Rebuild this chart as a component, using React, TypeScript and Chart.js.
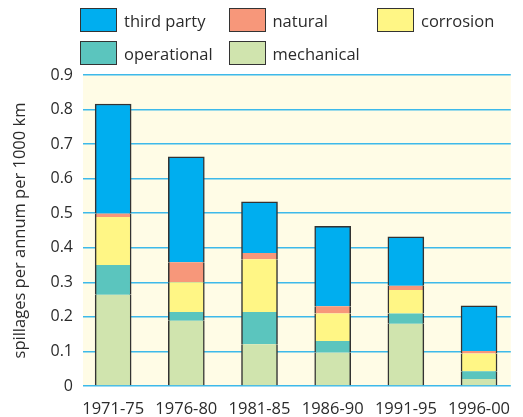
import React, { useEffect, useRef } from 'react';
import { Chart, registerables } from 'chart.js';

Chart.register(...registerables);

const categories = ['1971-75', '1976-80', '1981-85', '1986-90', '1991-95', '1996-00'];
const mechanical = [0.264, 0.189, 0.121, 0.097, 0.180, 0.020];
const operational = [0.086, 0.025, 0.093, 0.033, 0.030, 0.023];
const corrosion = [0.139, 0.086, 0.153, 0.080, 0.068, 0.051];
const natural = [0.010, 0.058, 0.018, 0.021, 0.012, 0.007];
const thirdParty = [0.317, 0.305, 0.148, 0.231, 0.142, 0.131];
const yTickValues = [0, 0.1, 0.2, 0.3, 0.4, 0.5, 0.6, 0.7, 0.8, 0.9];
const yTitle = 'spillages per annum per 1000 km';

// bottom to top
const series = [
  { label: 'mechanical', data: mechanical, color: '#D0E4AE' },
  { label: 'operational', data: operational, color: '#5BC5BE' },
  { label: 'corrosion', data: corrosion, color: '#FFF685' },
  { label: 'natural', data: natural, color: '#F7977A' },
  { label: 'third party', data: thirdParty, color: '#00AEEF' },
];
const legendOrder = ['third party', 'natural', 'corrosion', 'operational', 'mechanical'];

const FONT = "'Open Sans', 'Noto Sans', sans-serif";
const TEXT = '#2b2b2b';
const EDGE = '#333333';

const bgPlugin = {
  id: 'bgFill',
  beforeDraw(chart: any) {
    const { ctx, chartArea } = chart;
    ctx.save();
    ctx.fillStyle = '#FFFCE6';
    ctx.fillRect(chartArea.left, chartArea.top, chartArea.right - chartArea.left, chartArea.bottom - chartArea.top);
    ctx.restore();
  },
};

export default function App() {
  const ref = useRef<HTMLCanvasElement | null>(null);
  useEffect(() => {
    if (!ref.current) return;
    const n = series.length;
    const chart = new Chart(ref.current, {
      type: 'bar',
      data: {
        datasets: series.map((s, i) => ({
          label: s.label,
          data: s.data.map((v, j) => ({ x: j, y: v })),
          backgroundColor: s.color,
          borderColor: EDGE,
          borderSkipped: false,
          borderWidth: { left: 1.5, right: 1.5, top: i === n - 1 ? 1.5 : 0, bottom: 0 },
          barThickness: 36,
        })),
      },
      options: {
        animation: false,
        responsive: false,
        layout: { padding: { top: 75, left: 0, right: 0, bottom: 0 } },
        plugins: { legend: { display: false }, tooltip: { enabled: false } },
        scales: {
          x: {
            type: 'linear',
            stacked: true,
            offset: false,
            min: -0.412,
            max: 5.434,
            grid: { display: false, offset: false, drawTicks: false },
            border: { display: false },
            afterBuildTicks: (s: any) => {
              s.ticks = categories.map((_, i) => ({ value: i }));
            },
            afterFit: (s: any) => {
              s.height = 31;
            },
            ticks: {
              callback: (v: any) => categories[v] ?? '',
              autoSkip: false,
              maxRotation: 0,
              padding: 13,
              font: { family: FONT, size: 16.5 },
              color: TEXT,
            },
          },
          y: {
            stacked: true,
            min: 0,
            max: 0.9,
            afterBuildTicks: (s: any) => {
              s.ticks = yTickValues.map((v) => ({ value: v }));
            },
            afterFit: (s: any) => {
              s.width = 83;
            },
            ticks: {
              callback: (v: any) => (v === 0 ? '0' : Number(v).toFixed(1)),
              padding: 10,
              font: { family: FONT, size: 16 },
              color: TEXT,
            },
            grid: { color: '#3DB9EA', lineWidth: 1.5, drawTicks: false },
            border: { display: false },
            title: {
              display: true,
              text: yTitle,
              font: { family: FONT, size: 16.5 },
              color: TEXT,
              padding: { top: 10, bottom: 0 },
            },
          },
        },
      },
      plugins: [bgPlugin],
    } as any);
    return () => chart.destroy();
  }, []);

  return (
    <div style={{ position: 'absolute', left: 0, top: 0, width: 523, height: 417, background: '#fff' }}>
      <canvas ref={ref} width={523} height={417} style={{ display: 'block' }} />
      {legendOrder.map((name, i) => {
        const s = series.find((d) => d.label === name)!;
        const col = i % 3;
        const row = Math.floor(i / 3);
        return (
          <div
            key={name}
            style={{
              position: 'absolute',
              left: 80 + col * 148.5,
              top: 8 + row * 33,
              height: 24,
              display: 'flex',
              alignItems: 'center',
              fontFamily: FONT,
              fontSize: 16.5,
              color: TEXT,
              whiteSpace: 'nowrap',
            }}
          >
            <span
              style={{
                display: 'inline-block',
                width: 37,
                height: 24,
                boxSizing: 'border-box',
                border: `1.5px solid ${EDGE}`,
                background: s.color,
                marginRight: 7,
              }}
            />
            <span>{name}</span>
          </div>
        );
      })}
    </div>
  );
}
